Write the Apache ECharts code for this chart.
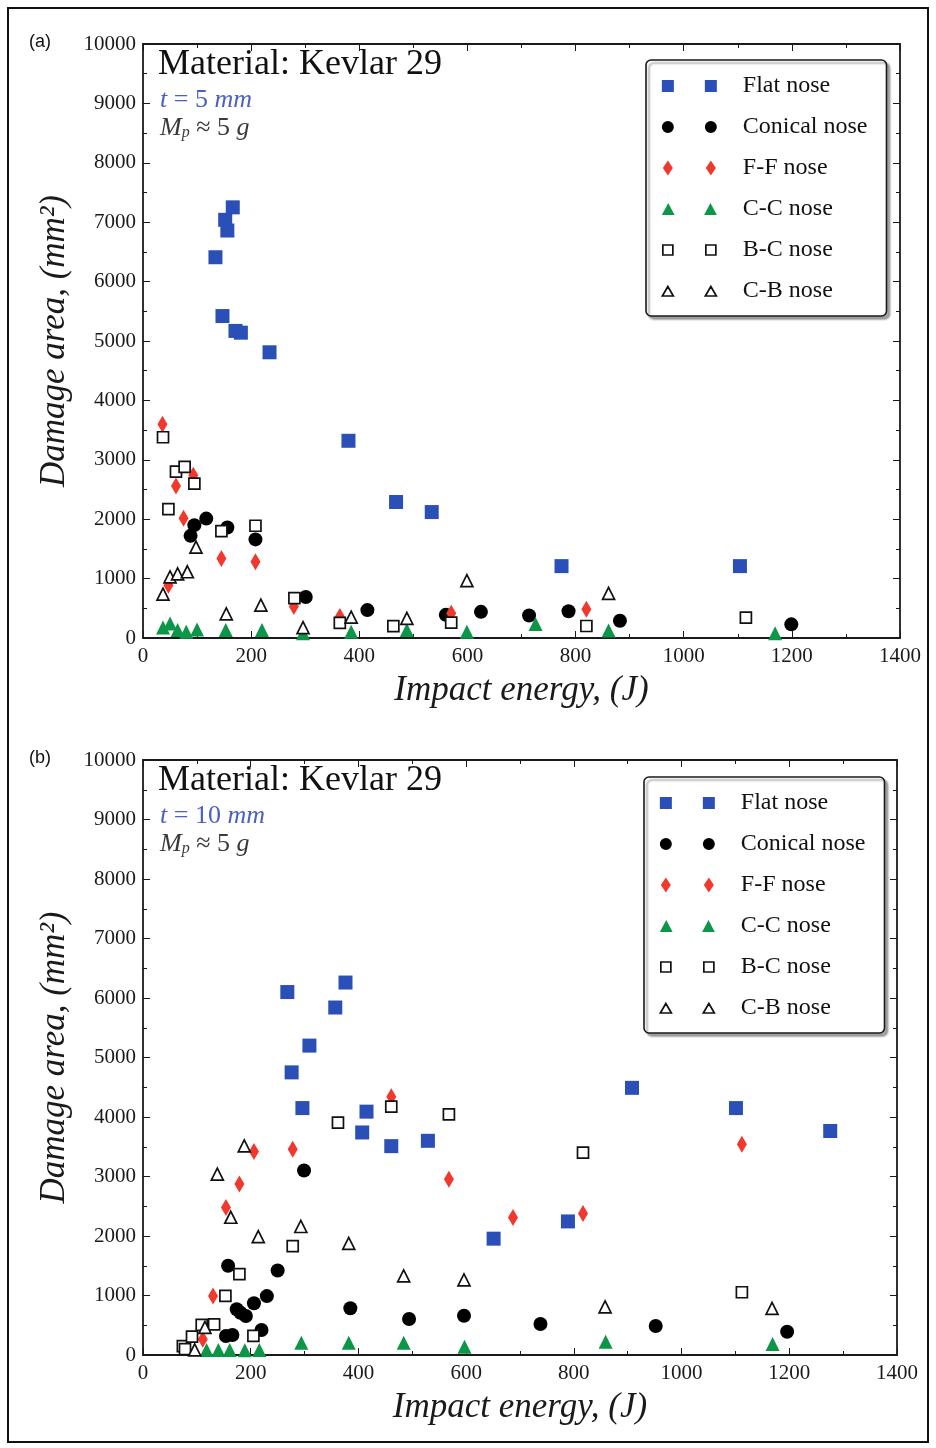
<!DOCTYPE html>
<html>
<head>
<meta charset="utf-8">
<title>Kevlar 29 damage area vs impact energy</title>
<script src="https://cdn.jsdelivr.net/npm/echarts@6.0.0/dist/echarts.min.js"></script>
<style>
  html, body { margin: 0; padding: 0; background: #fff; }
  #chart { width: 936px; height: 1448px; }
</style>
</head>
<body>
<div id="chart"></div>
<script>
// [impact energy (J), damage area (mm2)] -- panel (a), t = 5 mm
var flat5 = [[134,6410],[147,5420],[152,7040],[156,6860],[166,7250],[171,5170],[181,5140],[234,4810],[380,3320],[468,2290],[534,2120],[774,1210],[1104,1210]];
var conical5 = [[88,1720],[95,1900],[117,2010],[156,1860],[208,1660],[301,690],[415,470],[560,390],[625,440],[714,380],[787,450],[882,290],[1199,230]];
var ff5 = [[36,3600],[47,890],[61,2560],[75,2015],[93,2740],[145,1340],[208,1285],[279,530],[364,360],[570,416],[820,483]];
var cc5 = [[37,175],[50,245],[64,135],[80,105],[100,145],[153,135],[220,135],[296,80],[385,105],[488,135],[599,105],[726,235],[861,125],[1169,80]];
var bc5 = [[37,3380],[47,2170],[61,2800],[77,2880],[95,2600],[145,1800],[208,1890],[280,670],[364,255],[463,200],[570,258],[820,202],[1115,342]];
var cb5 = [[37,740],[50,1030],[64,1080],[82,1115],[98,1530],[154,405],[218,555],[296,175],[385,350],[488,330],[599,965],[861,750]];

// panel (b), t = 10 mm
var flat10 = [[268,6100],[276,4750],[296,4150],[309,5200],[357,5840],[376,6260],[407,3740],[415,4090],[461,3510],[529,3600],[651,1955],[789,2245],[908,4490],[1101,4150],[1276,3765]];
var conical10 = [[154,320],[158,1500],[166,335],[174,770],[181,710],[191,655],[206,870],[220,420],[230,990],[250,1420],[299,3100],[385,785],[494,605],[596,660],[738,520],[952,487],[1196,392]];
var ff10 = [[111,265],[130,990],[154,2480],[179,2875],[206,3420],[278,3460],[461,4340],[568,2955],[687,2310],[817,2380],[1112,3540]];
var cc10 = [[118,85],[140,85],[161,85],[189,80],[216,85],[294,205],[382,207],[484,207],[597,140],[859,224],[1169,185]];
var bc10 = [[74,150],[78,100],[91,310],[109,505],[132,515],[153,995],[179,1360],[205,320],[278,1830],[362,3905],[461,4175],[568,4045],[817,3400],[1112,1055]];
var cb10 = [[96,85],[115,465],[138,3040],[163,2315],[188,3515],[214,1990],[293,2160],[382,1877],[484,1330],[596,1261],[858,810],[1168,785]];

var noseNames = ['Flat nose', 'Conical nose', 'F-F nose', 'C-C nose', 'B-C nose', 'C-B nose'];
var panel5 = [flat5, conical5, ff5, cc5, bc5, cb5];
var panel10 = [flat10, conical10, ff10, cc10, bc10, cb10];

var energyMin = 0, energyMax = 1400, energyStep = 200;
var areaMin = 0, areaMax = 10000, areaStep = 1000;

var SERIF = 'Liberation Serif';
var INK = '#1a1a1a';

// marker looks, same order as noseNames
var looks = [
    {symbol: 'rect', size: 14, style: {color: '#2a4fb6', opacity: 1}},
    {symbol: 'circle', size: 14, style: {color: '#000', opacity: 1}},
    {symbol: 'diamond', size: [10, 17], style: {color: '#f0392c', opacity: 1}},
    {symbol: 'triangle', size: 14, style: {color: '#0b9648', opacity: 1}},
    {symbol: 'rect', size: 11, style: {color: '#fff', borderColor: '#111', borderWidth: 1.7, opacity: 1}},
    {symbol: 'triangle', size: 12, style: {color: '#fff', borderColor: '#111', borderWidth: 1.7, opacity: 1}}
];

// legend shows two markers per row, like matplotlib numpoints=2
var legendIcons = [
    'path://M0,0M0,1.5h12v12h-12zM43,1.5h12v12h-12zM55,15',
    'path://M0,0M0,7.5a6,6 0 1,0 12,0a6,6 0 1,0 -12,0zM43,7.5a6,6 0 1,0 12,0a6,6 0 1,0 -12,0zM55,15',
    'path://M0,0M6,0L11,7.5L6,15L1,7.5zM49,0L54,7.5L49,15L44,7.5zM55,15',
    'path://M0,0M6,1.5L12.5,13.5L-0.5,13.5zM49,1.5L55.5,13.5L42.5,13.5zM55,15',
    'path://M0,0M1,2.5h10v10h-10zM44,2.5h10v10h-10zM55,15',
    'path://M0,0M6,3L11.5,12.5L0.5,12.5zM49,3L54.5,12.5L43.5,12.5zM55,15'
];

function plainNumber(v) {
    return String(v);
}

function xAxisFor(g, pos) {
    var main = pos === 'bottom';
    return {
        type: 'value', gridIndex: g, position: pos,
        min: energyMin, max: energyMax, interval: energyStep,
        name: main ? 'Impact energy, (J)' : '',
        nameLocation: 'middle', nameGap: 35,
        nameTextStyle: {fontFamily: SERIF, fontStyle: 'italic', fontSize: 35, color: INK},
        axisLine: {onZero: false, lineStyle: {color: INK, width: 1.8}},
        axisTick: {inside: true, length: 7, lineStyle: {color: INK}},
        minorTick: {show: true, splitNumber: 2, length: 4, lineStyle: {color: INK}},
        axisLabel: {show: main, fontFamily: SERIF, fontSize: 21, color: INK, margin: 8, formatter: plainNumber},
        splitLine: {show: false}
    };
}

function yAxisFor(g, pos) {
    var main = pos === 'left';
    return {
        type: 'value', gridIndex: g, position: pos,
        min: areaMin, max: areaMax, interval: areaStep,
        name: main ? 'Damage area, (mm²)' : '',
        nameLocation: 'middle', nameGap: 70,
        nameTextStyle: {fontFamily: SERIF, fontStyle: 'italic', fontSize: 35, color: INK},
        axisLine: {onZero: false, lineStyle: {color: INK, width: 1.8}},
        axisTick: {inside: true, length: 7, lineStyle: {color: INK}},
        minorTick: {show: true, splitNumber: 2, length: 4, lineStyle: {color: INK}},
        axisLabel: {show: main, fontFamily: SERIF, fontSize: 21, color: INK, margin: 7, formatter: plainNumber},
        splitLine: {show: false}
    };
}

function noseSeries(panel, g) {
    return panel.map(function (data, i) {
        return {
            type: 'scatter', name: noseNames[i],
            xAxisIndex: g * 2, yAxisIndex: g * 2,
            data: data,
            symbol: looks[i].symbol, symbolSize: looks[i].size,
            itemStyle: looks[i].style,
            clip: false, silent: true, z: 2 + i
        };
    });
}

function noseLegend(left, top) {
    return {
        orient: 'vertical', left: left, top: top,
        padding: [14, 19, 13, 15],
        itemWidth: 55, itemHeight: 15, itemGap: 17,
        backgroundColor: '#fff', borderColor: INK, borderWidth: 1.6, borderRadius: 5,
        shadowColor: 'rgba(0,0,0,0.35)', shadowBlur: 2, shadowOffsetX: 3, shadowOffsetY: 3,
        selectedMode: false,
        textStyle: {fontFamily: SERIF, fontSize: 24, lineHeight: 23, color: '#111', padding: [0, 0, 0, 21]},
        data: noseNames.map(function (n, i) {
            return {name: n, icon: legendIcons[i], itemStyle: looks[i].style};
        })
    };
}

function panelTitles(tag, thick, dy) {
    var base = {fontFamily: SERIF, fontWeight: 'normal'};
    return [
        {text: tag, left: 29, top: 33 + dy, padding: 0,
            textStyle: {fontFamily: 'Liberation Sans', fontWeight: 'normal', fontSize: 18, color: '#111'}},
        {text: 'Material: Kevlar 29', left: 158, top: 47 + dy, padding: 0,
            textStyle: Object.assign({fontSize: 36, color: '#111'}, base)},
        {text: '{i|t} = ' + thick + ' {i|mm}', left: 160, top: 87 + dy, padding: 0,
            textStyle: Object.assign({fontSize: 26, color: '#4a60c4', rich: {
                i: {fontFamily: SERIF, fontStyle: 'italic', fontSize: 26, color: '#4a60c4'}
            }}, base)},
        {text: '{i|M}{s|p} ≈ 5 {i|g}', left: 160, top: 115 + dy, padding: 0,
            textStyle: Object.assign({fontSize: 26, color: '#3a3a3a', rich: {
                i: {fontFamily: SERIF, fontStyle: 'italic', fontSize: 26, color: '#3a3a3a'},
                s: {fontFamily: SERIF, fontStyle: 'italic', fontSize: 16, color: '#3a3a3a', verticalAlign: 'bottom', padding: [10, 0, 0, 0]}
            }}, base)}
    ];
}

var chart = echarts.init(document.getElementById('chart'));
chart.setOption({
    animation: false,
    backgroundColor: '#fff',
    title: panelTitles('(a)', 5, 0).concat(panelTitles('(b)', 10, 716)),
    grid: [
        {left: 143, top: 44, width: 757, height: 594},
        {left: 143, top: 760, width: 754, height: 595}
    ],
    xAxis: [xAxisFor(0, 'bottom'), xAxisFor(0, 'top'), xAxisFor(1, 'bottom'), xAxisFor(1, 'top')],
    yAxis: [yAxisFor(0, 'left'), yAxisFor(0, 'right'), yAxisFor(1, 'left'), yAxisFor(1, 'right')],
    legend: [noseLegend(646, 60), noseLegend(644, 777)],
    graphic: [{
        type: 'rect', silent: true,
        shape: {x: 8, y: 8, width: 920, height: 1434},
        style: {fill: 'none', stroke: '#111', lineWidth: 2}
    }],
    series: noseSeries(panel5, 0).concat(noseSeries(panel10, 1))
});
</script>
</body>
</html>
